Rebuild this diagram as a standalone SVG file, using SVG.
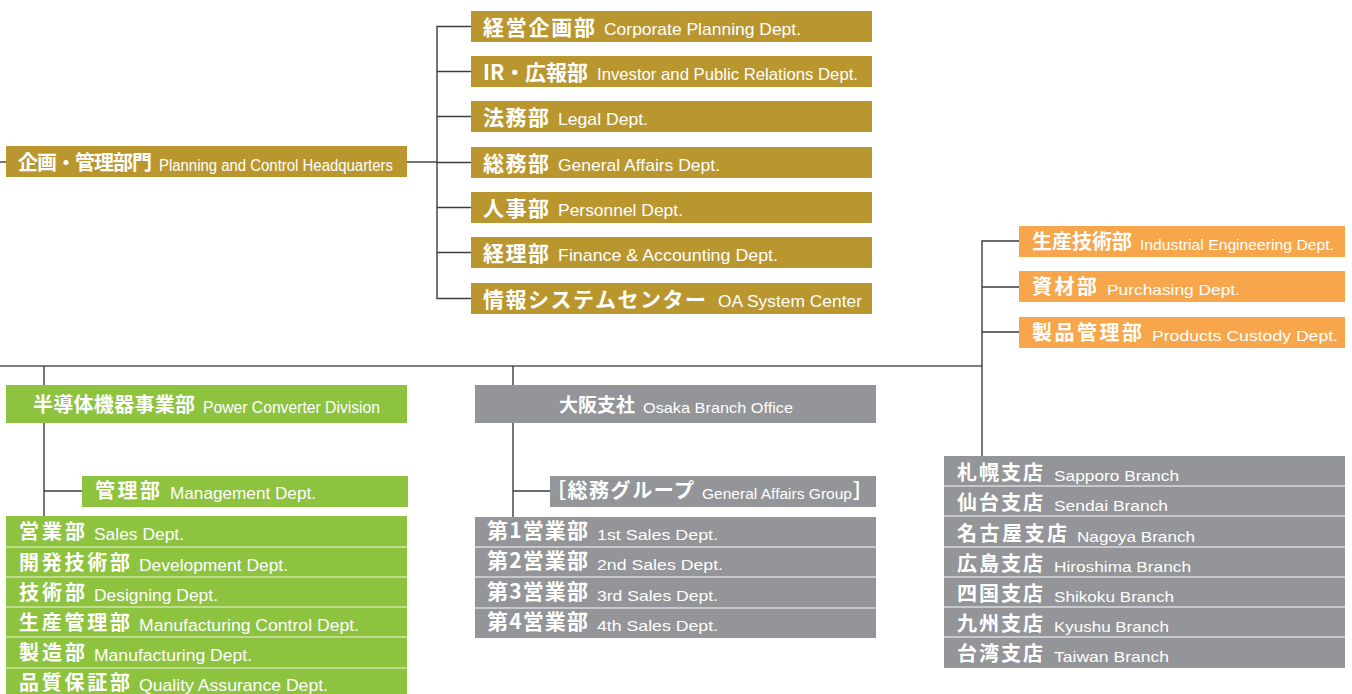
<svg xmlns="http://www.w3.org/2000/svg" width="1352" height="694" viewBox="0 0 1352 694">
<style>
.jp{font-family:"Noto Sans CJK JP",sans-serif;font-weight:700;fill:#fff;font-size:20px}
.jpg{font-size:21px}
.en{font-family:"Liberation Sans","Noto Sans CJK JP",sans-serif;fill:#fff;font-size:16px}
.en17{font-size:17px}
.en15{font-size:15px}
.en14{font-size:14px}
.gold{fill:#BA962F}
.orange{fill:#F7A64B}
.green{fill:#8DC33F}
.gray{fill:#939598}
.sepg{stroke:#CFE5A8;stroke-width:1.5}
.sepy{stroke:#D9D9DB;stroke-width:1.5}
.conn{fill:none;stroke:#3C3C3C;stroke-width:1.4}
</style>
<rect width="1352" height="694" fill="#fff"/>
<g id="connectors" class="conn">
<path d="M0 162H6"/>
<path d="M407 162H437"/>
<path d="M471 26.5H437V298.5H471"/>
<path d="M437 71.5H471M437 116.5H471M437 162.5H471M437 207.5H471M437 252.5H471"/>
<path d="M0 366H982" stroke="#555"/>
<path d="M44 366V385M44 423V516M44 491H82"/>
<path d="M513 366V385M513 423V517M513 491H550"/>
<path d="M1019 241H982V456M982 287H1019M982 332H1019"/>
</g>
<g id="hq">
<rect class="gold" x="6" y="146" width="401" height="31"/>
<text class="jp" x="18" y="170" textLength="134" lengthAdjust="spacing">企画・管理部門</text>
<text class="en" x="159" y="171" textLength="234" lengthAdjust="spacingAndGlyphs">Planning and Control Headquarters</text>
</g>
<g id="corporate-planning">
<rect class="gold" x="471" y="11" width="401" height="31"/>
<text class="jp jpg" x="483" y="34.5" textLength="112" lengthAdjust="spacing">経営企画部</text>
<text class="en en17" x="604" y="35" textLength="197" lengthAdjust="spacingAndGlyphs">Corporate Planning Dept.</text>
</g>
<g id="ir">
<rect class="gold" x="471" y="56" width="401" height="31"/>
<text class="jp jpg" x="483" y="79.5" textLength="105" lengthAdjust="spacing">IR・広報部</text>
<text class="en en17" x="597" y="80" textLength="261" lengthAdjust="spacingAndGlyphs">Investor and Public Relations Dept.</text>
</g>
<g id="legal">
<rect class="gold" x="471" y="101" width="401" height="31"/>
<text class="jp jpg" x="483" y="124.5" textLength="66" lengthAdjust="spacing">法務部</text>
<text class="en en17" x="558" y="125" textLength="90" lengthAdjust="spacingAndGlyphs">Legal Dept.</text>
</g>
<g id="general-affairs">
<rect class="gold" x="471" y="147" width="401" height="31"/>
<text class="jp jpg" x="483" y="170.5" textLength="66" lengthAdjust="spacing">総務部</text>
<text class="en en17" x="558" y="171" textLength="162" lengthAdjust="spacingAndGlyphs">General Affairs Dept.</text>
</g>
<g id="personnel">
<rect class="gold" x="471" y="192" width="401" height="31"/>
<text class="jp jpg" x="483" y="215.5" textLength="66" lengthAdjust="spacing">人事部</text>
<text class="en en17" x="558" y="216" textLength="125" lengthAdjust="spacingAndGlyphs">Personnel Dept.</text>
</g>
<g id="finance">
<rect class="gold" x="471" y="237" width="401" height="31"/>
<text class="jp jpg" x="483" y="260.5" textLength="66" lengthAdjust="spacing">経理部</text>
<text class="en en17" x="558" y="261" textLength="220" lengthAdjust="spacingAndGlyphs">Finance &amp; Accounting Dept.</text>
</g>
<g id="oa-system">
<rect class="gold" x="471" y="283" width="401" height="31"/>
<text class="jp jpg" x="483" y="306.5" textLength="223" lengthAdjust="spacing">情報システムセンター</text>
<text class="en en17" x="718" y="307" textLength="144" lengthAdjust="spacingAndGlyphs">OA System Center</text>
</g>
<g id="industrial-engineering">
<rect class="orange" x="1019" y="226" width="326" height="31"/>
<text class="jp" x="1032" y="249" textLength="100" lengthAdjust="spacing">生産技術部</text>
<text class="en en15" x="1140" y="250" textLength="194" lengthAdjust="spacingAndGlyphs">Industrial Engineering Dept.</text>
</g>
<g id="purchasing">
<rect class="orange" x="1019" y="271" width="326" height="31"/>
<text class="jp" x="1032" y="294" textLength="65" lengthAdjust="spacing">資材部</text>
<text class="en en15" x="1107" y="295" textLength="133" lengthAdjust="spacingAndGlyphs">Purchasing Dept.</text>
</g>
<g id="products-custody">
<rect class="orange" x="1019" y="317" width="326" height="31"/>
<text class="jp" x="1032" y="340" textLength="110" lengthAdjust="spacing">製品管理部</text>
<text class="en en15" x="1152" y="341" textLength="186" lengthAdjust="spacingAndGlyphs">Products Custody Dept.</text>
</g>
<g id="power-converter">
<rect class="green" x="6" y="385" width="401" height="38"/>
<text class="jp" x="33" y="412" textLength="162" lengthAdjust="spacing">半導体機器事業部</text>
<text class="en" x="203" y="413" textLength="177" lengthAdjust="spacingAndGlyphs">Power Converter Division</text>
</g>
<g id="management">
<rect class="green" x="82" y="476" width="326" height="31"/>
<text class="jp" x="95" y="498" textLength="65" lengthAdjust="spacing">管理部</text>
<text class="en" x="170" y="499" textLength="146" lengthAdjust="spacingAndGlyphs">Management Dept.</text>
</g>
<g id="pcd-depts">
<rect class="green" x="6" y="516" width="401" height="180"/>
<path class="sepg" d="M6 547H407M6 577H407M6 607H407M6 637H407M6 668H407"/>
<text class="jp" x="19" y="539" textLength="66" lengthAdjust="spacing">営業部</text>
<text class="en" x="94" y="540" textLength="90" lengthAdjust="spacingAndGlyphs">Sales Dept.</text>
<text class="jp" x="19" y="570" textLength="111" lengthAdjust="spacing">開発技術部</text>
<text class="en" x="139" y="571" textLength="149" lengthAdjust="spacingAndGlyphs">Development Dept.</text>
<text class="jp" x="19" y="600" textLength="66" lengthAdjust="spacing">技術部</text>
<text class="en" x="94" y="601" textLength="124" lengthAdjust="spacingAndGlyphs">Designing Dept.</text>
<text class="jp" x="19" y="630" textLength="111" lengthAdjust="spacing">生産管理部</text>
<text class="en" x="139" y="631" textLength="220" lengthAdjust="spacingAndGlyphs">Manufacturing Control Dept.</text>
<text class="jp" x="19" y="660" textLength="66" lengthAdjust="spacing">製造部</text>
<text class="en" x="94" y="661" textLength="158" lengthAdjust="spacingAndGlyphs">Manufacturing Dept.</text>
<text class="jp" x="19" y="690" textLength="111" lengthAdjust="spacing">品質保証部</text>
<text class="en" x="139" y="691" textLength="189" lengthAdjust="spacingAndGlyphs">Quality Assurance Dept.</text>
</g>
<g id="osaka">
<rect class="gray" x="475" y="385" width="401" height="38"/>
<text class="jp" x="559" y="412" style="font-size:19px">大阪支社</text>
<text class="en en15" x="643" y="413" textLength="150" lengthAdjust="spacingAndGlyphs">Osaka Branch Office</text>
</g>
<g id="osaka-ga">
<rect class="gray" x="550" y="476" width="326" height="31"/>
<text class="jp" x="546" y="498" textLength="148" lengthAdjust="spacing">［総務グループ</text>
<text class="en en14" x="702" y="499" textLength="150" lengthAdjust="spacingAndGlyphs">General Affairs Group</text>
<text class="jp" x="853" y="498">］</text>
</g>
<g id="osaka-sales">
<rect class="gray" x="475" y="517" width="401" height="121"/>
<path class="sepy" d="M475 547H876M475 577H876M475 608H876"/>
<text class="jp" x="487" y="538" style="font-size:21px" textLength="101" lengthAdjust="spacing">第1営業部</text>
<text class="en en15" x="597" y="540" textLength="121" lengthAdjust="spacingAndGlyphs">1st Sales Dept.</text>
<text class="jp" x="487" y="568" style="font-size:21px" textLength="101" lengthAdjust="spacing">第2営業部</text>
<text class="en en15" x="597" y="570" textLength="126" lengthAdjust="spacingAndGlyphs">2nd Sales Dept.</text>
<text class="jp" x="487" y="599" style="font-size:21px" textLength="101" lengthAdjust="spacing">第3営業部</text>
<text class="en en15" x="597" y="601" textLength="121" lengthAdjust="spacingAndGlyphs">3rd Sales Dept.</text>
<text class="jp" x="487" y="629" style="font-size:21px" textLength="101" lengthAdjust="spacing">第4営業部</text>
<text class="en en15" x="597" y="631" textLength="121" lengthAdjust="spacingAndGlyphs">4th Sales Dept.</text>
</g>
<g id="branches">
<rect class="gray" x="944" y="456" width="401" height="212"/>
<path class="sepy" d="M944 486H1345M944 516H1345M944 547H1345M944 577H1345M944 607H1345M944 637H1345"/>
<text class="jp" x="957" y="480" textLength="86" lengthAdjust="spacing">札幌支店</text>
<text class="en en15" x="1054" y="481" textLength="125" lengthAdjust="spacingAndGlyphs">Sapporo Branch</text>
<text class="jp" x="957" y="510" textLength="86" lengthAdjust="spacing">仙台支店</text>
<text class="en en15" x="1054" y="511" textLength="114" lengthAdjust="spacingAndGlyphs">Sendai Branch</text>
<text class="jp" x="957" y="541" textLength="110" lengthAdjust="spacing">名古屋支店</text>
<text class="en en15" x="1077" y="542" textLength="118" lengthAdjust="spacingAndGlyphs">Nagoya Branch</text>
<text class="jp" x="957" y="571" textLength="86" lengthAdjust="spacing">広島支店</text>
<text class="en en15" x="1054" y="572" textLength="137" lengthAdjust="spacingAndGlyphs">Hiroshima Branch</text>
<text class="jp" x="957" y="601" textLength="86" lengthAdjust="spacing">四国支店</text>
<text class="en en15" x="1054" y="602" textLength="120" lengthAdjust="spacingAndGlyphs">Shikoku Branch</text>
<text class="jp" x="957" y="631" textLength="86" lengthAdjust="spacing">九州支店</text>
<text class="en en15" x="1054" y="632" textLength="115" lengthAdjust="spacingAndGlyphs">Kyushu Branch</text>
<text class="jp" x="957" y="661" textLength="86" lengthAdjust="spacing">台湾支店</text>
<text class="en en15" x="1054" y="662" textLength="115" lengthAdjust="spacingAndGlyphs">Taiwan Branch</text>
</g>
</svg>
